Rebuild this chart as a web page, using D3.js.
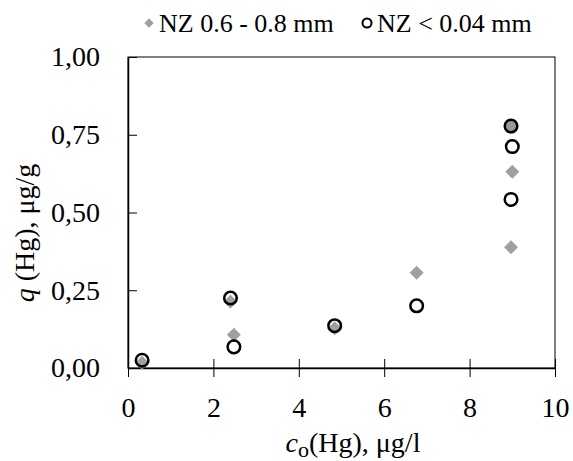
<!DOCTYPE html>
<html>
<head>
<meta charset="utf-8">
<script src="https://cdn.jsdelivr.net/npm/d3@7"></script>
<style>
  body { margin: 0; background: #fff; }
</style>
</head>
<body>
<svg id="chart" width="573" height="461"></svg>
<script>
'use strict';

// series: NZ 0.6 - 0.8 mm (grey diamonds)
var coarseX = [0.33, 2.40, 2.48, 4.84, 6.76, 8.97, 9.00, 8.97];
var coarseY = [0.017, 0.213, 0.107, 0.128, 0.306, 0.388, 0.631, 0.776];

// series: NZ < 0.04 mm (open circles)
var fineX = [0.33, 2.40, 2.48, 4.84, 6.76, 8.97, 9.00];
var fineY = [0.025, 0.225, 0.068, 0.136, 0.200, 0.542, 0.712];

// point drawn as a grey filled circle
var filledX = [8.97];
var filledY = [0.778];

var xTicks = [0, 2, 4, 6, 8, 10];
var yTicks = [0, 0.25, 0.5, 0.75, 1];
var legendLabels = ['NZ 0.6 - 0.8 mm', 'NZ < 0.04 mm'];

var serif = 'Liberation Serif';
var margins = { top: 57, right: 18, bottom: 93, left: 128 };
var width = 573, height = 461;
var chartW = width - margins.left - margins.right;
var chartH = height - margins.top - margins.bottom;

var svg = d3.select('#chart');
var g = svg.append('g').attr('transform', 'translate(' + margins.left + ',' + margins.top + ')');

var x = d3.scaleLinear().domain([0, 10]).range([0, chartW]);
var y = d3.scaleLinear().domain([0, 1]).range([chartH, 0]);

var grey = '#a0a0a0';
var fmt = function (d) { return d3.format('.2f')(d).replace('.', ','); };

// frame
g.append('rect').attr('x', 0).attr('y', 0).attr('width', chartW).attr('height', chartH)
  .attr('fill', 'none').attr('stroke', '#000').attr('stroke-width', 1);

// x axis with crossing ticks
var xAxis = g.append('g').attr('transform', 'translate(0,' + chartH + ')')
  .call(d3.axisBottom(x).tickValues(xTicks).tickSize(9).tickSizeOuter(0).tickFormat(d3.format('d')))
  .attr('font-family', serif).attr('font-size', 28);
xAxis.select('.domain').attr('stroke', '#000').attr('stroke-width', 1.5);
xAxis.selectAll('.tick line').attr('y1', -9).attr('stroke', '#000');
xAxis.selectAll('.tick text').attr('y', 49).attr('dy', null).attr('fill', '#000');

// y axis with crossing ticks
var yAxis = g.append('g')
  .call(d3.axisLeft(y).tickValues(yTicks).tickSize(9).tickSizeOuter(0).tickFormat(fmt))
  .attr('font-family', serif).attr('font-size', 28);
yAxis.select('.domain').attr('stroke', '#000').attr('stroke-width', 1.5);
yAxis.selectAll('.tick line').attr('x2', 9).attr('stroke', '#000');
yAxis.selectAll('.tick text').attr('x', -28).attr('fill', '#000');

var diamond = d3.symbol().type(d3.symbolDiamond2).size(125);

// diamonds first, circles on top
g.append('g').selectAll('path').data(coarseX).enter().append('path')
  .attr('d', diamond)
  .attr('transform', function (d, i) { return 'translate(' + x(d) + ',' + y(coarseY[i]) + ')'; })
  .attr('fill', grey);

g.append('g').selectAll('circle').data(filledX).enter().append('circle')
  .attr('cx', function (d) { return x(d); })
  .attr('cy', function (d, i) { return y(filledY[i]); })
  .attr('r', 6.3)
  .attr('fill', '#999').attr('stroke', '#000').attr('stroke-width', 2.5);

g.append('g').selectAll('circle').data(fineX).enter().append('circle')
  .attr('cx', function (d) { return x(d); })
  .attr('cy', function (d, i) { return y(fineY[i]); })
  .attr('r', 6.3)
  .attr('fill', 'none').attr('stroke', '#000').attr('stroke-width', 2.5);

// axis titles
var xTitle = svg.append('text')
  .attr('x', 353).attr('y', 452)
  .attr('text-anchor', 'middle').attr('font-family', serif).attr('font-size', 28);
xTitle.append('tspan').attr('font-style', 'italic').text('c');
xTitle.append('tspan').attr('font-size', 22).attr('dy', 5).text('o');
xTitle.append('tspan').attr('dy', -5).text('(Hg), μg/l');

var yTitle = svg.append('text')
  .attr('transform', 'translate(34,233) rotate(-90)')
  .attr('text-anchor', 'middle').attr('font-family', serif).attr('font-size', 28);
yTitle.append('tspan').attr('font-style', 'italic').text('q');
yTitle.append('tspan').text(' (Hg), μg/g');

// legend
var legend = svg.append('g').attr('font-family', serif).attr('font-size', 26);
legend.append('path').attr('d', d3.symbol().type(d3.symbolDiamond2).size(55))
  .attr('transform', 'translate(149,23)').attr('fill', grey);
legend.append('text').attr('x', 159).attr('y', 32).text(legendLabels[0]);
legend.append('circle').attr('cx', 367).attr('cy', 23).attr('r', 4.5)
  .attr('fill', 'none').attr('stroke', '#000').attr('stroke-width', 2);
legend.append('text').attr('x', 377).attr('y', 32).text(legendLabels[1]);
</script>
</body>
</html>
